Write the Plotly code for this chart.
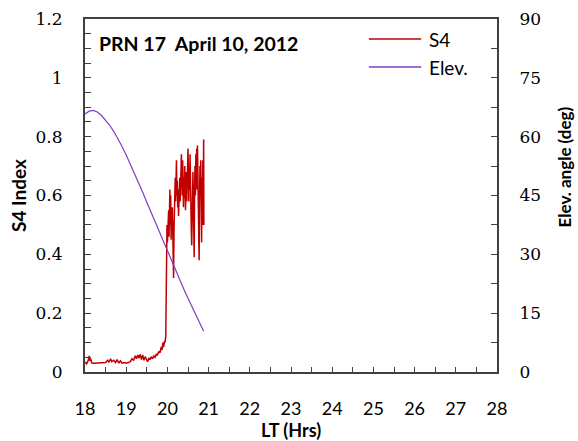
import plotly.graph_objects as go

# ---- data ----
s4_time = [18.00, 18.02, 18.04, 18.06, 18.08, 18.10, 18.12, 18.14, 18.16, 18.20, 18.25, 18.30, 18.35,
           18.40, 18.45, 18.50, 18.55, 18.58, 18.62, 18.65, 18.70, 18.74, 18.78, 18.82, 18.86, 18.90,
           18.95, 19.00, 19.05, 19.10, 19.14, 19.18, 19.22, 19.25, 19.28, 19.31, 19.34, 19.37, 19.40,
           19.43, 19.46, 19.49, 19.52, 19.55, 19.58, 19.61, 19.64, 19.67, 19.70, 19.73, 19.76, 19.79,
           19.82, 19.85, 19.87, 19.89, 19.91, 19.93, 19.94, 19.96, 19.97, 19.98, 19.99,
           20.00, 20.01, 20.02, 20.03, 20.04, 20.05, 20.06, 20.07, 20.08, 20.09, 20.10, 20.11, 20.12,
           20.13, 20.14, 20.15, 20.16, 20.17, 20.18, 20.19, 20.20, 20.21, 20.22, 20.23, 20.24, 20.25,
           20.26, 20.27, 20.28, 20.29, 20.30, 20.31, 20.32, 20.33, 20.34, 20.35, 20.36, 20.37, 20.38,
           20.39, 20.40, 20.41, 20.42, 20.43, 20.44, 20.45, 20.46, 20.47, 20.48, 20.49, 20.50, 20.51,
           20.52, 20.53, 20.54, 20.55, 20.56, 20.57, 20.58, 20.59, 20.60, 20.61, 20.62, 20.63, 20.64,
           20.65, 20.66, 20.67, 20.68, 20.69, 20.70, 20.71, 20.72, 20.73, 20.74, 20.75, 20.76, 20.77,
           20.78, 20.79, 20.80, 20.81, 20.82, 20.83, 20.84, 20.85, 20.86, 20.87, 20.88, 20.885]
s4_values = [0.030, 0.032, 0.028, 0.035, 0.040, 0.055, 0.038, 0.045, 0.032, 0.030, 0.030, 0.030, 0.030,
             0.031, 0.030, 0.032, 0.040, 0.033, 0.045, 0.035, 0.040, 0.032, 0.042, 0.030, 0.038, 0.030,
             0.032, 0.030, 0.032, 0.035, 0.045, 0.040, 0.055, 0.045, 0.058, 0.048, 0.060, 0.042, 0.058,
             0.040, 0.052, 0.045, 0.035, 0.048, 0.042, 0.052, 0.045, 0.055, 0.050, 0.060, 0.058, 0.070,
             0.065, 0.085, 0.075, 0.100, 0.085, 0.105, 0.100, 0.120, 0.300, 0.420, 0.500,
             0.44, 0.52, 0.47, 0.55, 0.46, 0.58, 0.62, 0.50, 0.60, 0.45, 0.55, 0.48, 0.56,
             0.40, 0.50, 0.32, 0.48, 0.52, 0.55, 0.66, 0.58, 0.70, 0.72, 0.60, 0.65, 0.56,
             0.62, 0.53, 0.60, 0.57, 0.66, 0.58, 0.70, 0.62, 0.74, 0.68, 0.60, 0.72, 0.62,
             0.56, 0.66, 0.59, 0.70, 0.62, 0.55, 0.64, 0.68, 0.58, 0.72, 0.66, 0.76, 0.68,
             0.58, 0.70, 0.62, 0.74, 0.55, 0.66, 0.48, 0.43, 0.60, 0.52, 0.68, 0.58, 0.50,
             0.39, 0.62, 0.70, 0.60, 0.74, 0.64, 0.76, 0.62, 0.77, 0.66, 0.55, 0.45, 0.38,
             0.58, 0.70, 0.62, 0.72, 0.56, 0.44, 0.66, 0.50, 0.72, 0.58, 0.79, 0.50]

elev_time = [18.0, 18.1, 18.2, 18.3, 18.4, 18.5, 18.6, 18.7, 18.8, 18.9, 19.0, 19.1, 19.2, 19.3, 19.4,
             19.5, 19.6, 19.7, 19.8, 19.9, 20.0, 20.1, 20.2, 20.3, 20.4, 20.5, 20.6, 20.7, 20.8, 20.88]
elev_values = [65.8, 66.5, 66.7, 66.3, 65.4, 64.2, 62.9, 61.3, 59.5, 57.5, 55.3, 53.0, 50.6, 48.2, 45.8,
               43.3, 40.8, 38.3, 35.8, 33.3, 30.8, 28.3, 25.9, 23.5, 21.1, 18.8, 16.5, 14.3, 12.1, 10.4]

x_ticks = list(range(18, 29))
y_ticks = [0, 0.2, 0.4, 0.6, 0.8, 1, 1.2]
y_tick_text = ["0", "0.2", "0.4", "0.6", "0.8", "1", "1.2"]
y2_ticks = [0, 15, 30, 45, 60, 75, 90]

title_text = "PRN 17  April 10, 2012"
y2_title = "Elev. angle (deg)"
series_names = ["S4", "Elev."]
series_colors = ["#C00000", "#7B3FC4"]

AXC = "#404040"
SERIF = "DejaVu Serif"
SANS = "Lato"

fig = go.Figure()
fig.add_trace(go.Scatter(x=s4_time, y=s4_values, mode="lines", name=series_names[0],
                         line=dict(color=series_colors[0], width=1.5), yaxis="y", showlegend=False))
fig.add_trace(go.Scatter(x=elev_time, y=elev_values, mode="lines", name=series_names[1],
                         line=dict(color=series_colors[1], width=1.2), yaxis="y2", showlegend=False))

# manual legend (sample line + label), in paper coordinates
legend_rows_y = [0.943, 0.864]
shapes = []
annotations = []
for name, col, yy in zip(series_names, series_colors, legend_rows_y):
    shapes.append(dict(type="line", xref="paper", yref="paper", x0=0.689, x1=0.816, y0=yy, y1=yy,
                       line=dict(color=col, width=1.5)))
    annotations.append(dict(text=name, xref="paper", yref="paper", x=0.830, y=yy, xanchor="left",
                            yanchor="middle", showarrow=False,
                            font=dict(family=SANS, size=19, color="black")))
annotations.append(dict(text="<b>" + title_text + "</b>", xref="paper", yref="paper", x=0.030, y=0.931,
                        xanchor="left", yanchor="middle", showarrow=False,
                        font=dict(family=SANS, size=19.5, color="black")))
# right axis title (placed slightly above centre as in the reference)
annotations.append(dict(text="<b>" + y2_title + "</b>", xref="paper", yref="paper", x=1.163, y=0.58,
                        xanchor="center", yanchor="middle", textangle=-90, showarrow=False,
                        font=dict(family=SANS, size=17, color="black")))

fig.update_layout(
    width=578, height=441,
    margin=dict(l=85, r=81, t=19, b=69, autoexpand=False),
    paper_bgcolor="white", plot_bgcolor="white",
    showlegend=False,
    xaxis=dict(range=[18, 28], tickvals=x_ticks, ticks="inside", ticklen=5, tickwidth=1.2,
               tickcolor=AXC, showline=True, linecolor=AXC, linewidth=2, mirror=True,
               showgrid=False, zeroline=False, ticklabelstandoff=19,
               minor=dict(ticks="inside", dtick=0.5, ticklen=5, tickwidth=1.2, tickcolor=AXC),
               tickfont=dict(family=SANS, size=18, color="black"),
               title=dict(text="<b>LT (Hrs)</b>", font=dict(family=SANS, size=18, color="black"),
                          standoff=0)),
    yaxis=dict(range=[0, 1.2], tickvals=y_ticks, ticktext=y_tick_text, ticks="inside", ticklen=6,
               tickwidth=1.2, tickcolor=AXC, showline=True, linecolor=AXC, linewidth=2,
               showgrid=False, zeroline=False, ticklabelstandoff=17,
               minor=dict(ticks="inside", dtick=0.05, ticklen=6, tickwidth=1.2, tickcolor=AXC),
               tickfont=dict(family=SERIF, size=17, color="black"),
               title=dict(text="<b>S4 Index</b>", font=dict(family=SANS, size=19, color="black"),
                          standoff=4)),
    yaxis2=dict(range=[0, 90], tickvals=y2_ticks, overlaying="y", side="right", ticks="inside",
                ticklen=6, tickwidth=1.2, tickcolor=AXC, showline=True, linecolor=AXC, linewidth=2,
                showgrid=False, zeroline=False, ticklabelstandoff=17,
                minor=dict(ticks="inside", dtick=7.5, ticklen=6, tickwidth=1.2, tickcolor=AXC),
                tickfont=dict(family=SERIF, size=17, color="black")),
    shapes=shapes,
    annotations=annotations,
)

fig.write_html("out.html")
